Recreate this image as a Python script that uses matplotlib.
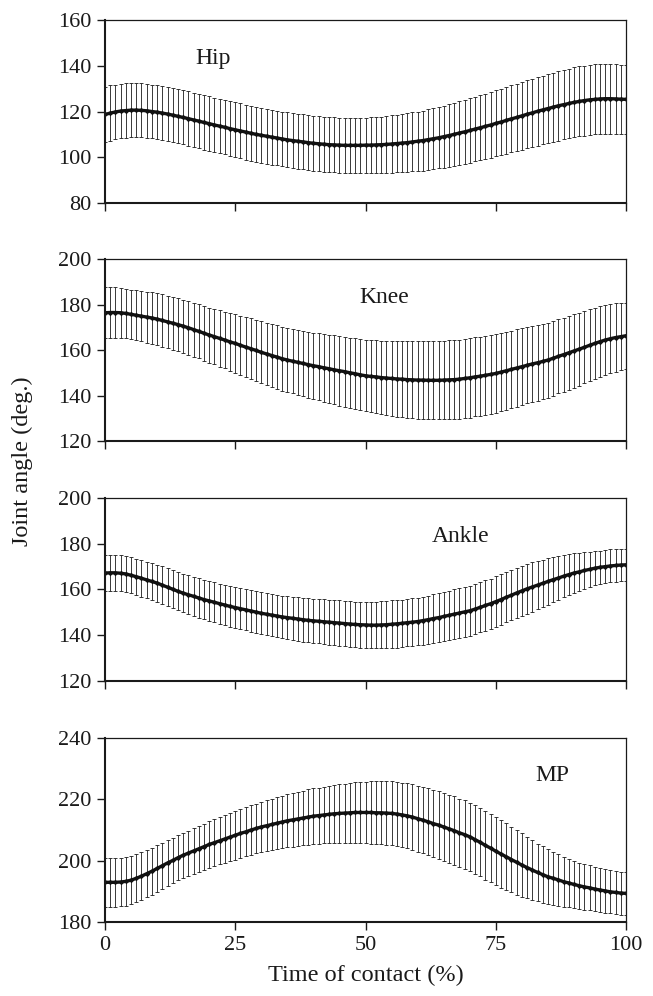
import numpy as np
import matplotlib
matplotlib.use("Agg")
import matplotlib.pyplot as plt

plt.rcParams['font.family'] = ['Liberation Serif', 'DejaVu Serif']

# time of contact (%), 0..100 step 1
time_pct = list(range(0, 101))

hip_mean = [
    118.7, 119.3, 119.8, 120.2, 120.4, 120.6, 120.6, 120.5, 120.3, 120.0,
    119.7, 119.3, 118.9, 118.4, 117.9, 117.4, 116.9, 116.3, 115.8, 115.2,
    114.7, 114.1, 113.6, 113.1, 112.5, 112.0, 111.5, 111.0, 110.5, 110.0,
    109.6, 109.2, 108.8, 108.4, 108.0, 107.6, 107.3, 107.0, 106.7, 106.4,
    106.1, 105.9, 105.7, 105.5, 105.4, 105.3, 105.2, 105.2, 105.2, 105.2,
    105.3, 105.3, 105.4, 105.5, 105.6, 105.8, 106.0, 106.2, 106.4, 106.7,
    107.0, 107.3, 107.7, 108.1, 108.5, 109.0, 109.5, 110.0, 110.6, 111.1,
    111.7, 112.3, 112.9, 113.5, 114.1, 114.8, 115.4, 116.1, 116.8, 117.4,
    118.1, 118.8, 119.4, 120.1, 120.7, 121.3, 121.9, 122.5, 123.0, 123.5,
    124.0, 124.4, 124.8, 125.1, 125.3, 125.5, 125.6, 125.6, 125.5, 125.4,
    125.3]
hip_sd = [
    12.2, 12.1, 12.0, 11.9, 11.9, 11.8, 11.8, 11.8, 11.8, 11.8,
    11.8, 11.8, 11.8, 11.8, 11.8, 11.8, 11.9, 11.9, 11.9, 11.9,
    11.9, 11.9, 11.9, 11.9, 12.0, 12.0, 12.0, 12.0, 12.0, 12.0,
    12.0, 12.0, 12.0, 12.0, 12.0, 12.0, 12.0, 12.0, 12.0, 12.0,
    12.0, 12.0, 12.0, 12.0, 12.0, 12.0, 12.0, 12.0, 12.0, 12.0,
    12.0, 12.1, 12.2, 12.3, 12.4, 12.5, 12.6, 12.7, 12.8, 12.9,
    13.0, 13.1, 13.2, 13.3, 13.4, 13.5, 13.6, 13.7, 13.8, 13.9,
    14.0, 14.1, 14.2, 14.3, 14.4, 14.4, 14.5, 14.6, 14.7, 14.7,
    14.8, 14.9, 14.9, 15.0, 15.0, 15.1, 15.1, 15.2, 15.2, 15.2,
    15.3, 15.3, 15.3, 15.3, 15.3, 15.3, 15.3, 15.3, 15.2, 15.1,
    15.0]

knee_mean = [
    176.4, 176.5, 176.5, 176.4, 176.1, 175.7, 175.3, 174.9, 174.5, 174.1,
    173.6, 173.0, 172.4, 171.8, 171.2, 170.5, 169.8, 169.0, 168.2, 167.4,
    166.6, 165.9, 165.1, 164.4, 163.6, 162.9, 162.1, 161.3, 160.6, 159.8,
    159.0, 158.3, 157.6, 156.9, 156.2, 155.6, 155.1, 154.6, 154.1, 153.6,
    153.1, 152.7, 152.2, 151.8, 151.3, 150.9, 150.5, 150.0, 149.6, 149.1,
    148.7, 148.4, 148.2, 147.9, 147.7, 147.5, 147.3, 147.2, 147.0, 146.9,
    146.8, 146.8, 146.7, 146.7, 146.7, 146.8, 146.9, 147.0, 147.2, 147.5,
    147.8, 148.2, 148.5, 148.9, 149.3, 149.7, 150.3, 150.9, 151.5, 152.1,
    152.7, 153.3, 153.9, 154.4, 155.0, 155.6, 156.4, 157.2, 158.0, 158.8,
    159.6, 160.4, 161.2, 162.1, 162.9, 163.7, 164.4, 165.0, 165.5, 165.9,
    166.3]
knee_sd = [
    11.2, 11.1, 11.0, 11.0, 10.9, 10.9, 11.0, 11.1, 11.2, 11.3,
    11.4, 11.5, 11.5, 11.6, 11.6, 11.7, 11.8, 11.9, 11.9, 12.0,
    12.1, 12.2, 12.4, 12.5, 12.7, 12.8, 13.0, 13.2, 13.4, 13.5,
    13.7, 13.8, 13.9, 14.0, 14.0, 14.1, 14.2, 14.3, 14.4, 14.5,
    14.6, 14.7, 14.9, 15.0, 15.2, 15.3, 15.4, 15.5, 15.5, 15.6,
    15.6, 15.8, 16.0, 16.2, 16.4, 16.5, 16.6, 16.7, 16.8, 16.9,
    17.0, 17.0, 17.1, 17.1, 17.2, 17.2, 17.3, 17.3, 17.4, 17.4,
    17.5, 17.4, 17.4, 17.3, 17.3, 17.2, 17.1, 17.1, 17.0, 17.0,
    16.9, 16.8, 16.7, 16.7, 16.6, 16.5, 16.4, 16.3, 16.3, 16.2,
    16.1, 16.0, 15.9, 15.9, 15.8, 15.7, 15.5, 15.3, 15.0, 14.8,
    14.5]

ankle_mean = [
    167.2, 167.3, 167.3, 167.1, 166.8, 166.2, 165.6, 164.9, 164.2, 163.5,
    162.8, 161.9, 161.0, 160.1, 159.2, 158.4, 157.7, 157.0, 156.3, 155.6,
    155.0, 154.4, 153.8, 153.2, 152.6, 152.1, 151.6, 151.1, 150.6, 150.1,
    149.6, 149.2, 148.8, 148.4, 148.0, 147.7, 147.4, 147.1, 146.8, 146.5,
    146.3, 146.1, 145.9, 145.7, 145.5, 145.3, 145.1, 144.9, 144.7, 144.6,
    144.5, 144.4, 144.4, 144.5, 144.6, 144.8, 145.0, 145.2, 145.5, 145.7,
    146.0, 146.4, 146.8, 147.3, 147.7, 148.2, 148.7, 149.2, 149.7, 150.2,
    150.7, 151.4, 152.2, 153.0, 153.8, 154.7, 155.6, 156.6, 157.5, 158.5,
    159.4, 160.3, 161.1, 161.9, 162.7, 163.5, 164.3, 165.0, 165.8, 166.5,
    167.2, 167.7, 168.3, 168.8, 169.3, 169.7, 170.0, 170.3, 170.5, 170.7,
    170.8]
ankle_sd = [
    7.8, 7.8, 7.8, 7.8, 7.9, 7.9, 7.9, 8.0, 8.0, 8.1,
    8.1, 8.2, 8.2, 8.3, 8.3, 8.4, 8.5, 8.6, 8.7, 8.7,
    8.8, 8.8, 8.8, 8.9, 8.9, 8.9, 9.0, 9.0, 9.1, 9.1,
    9.1, 9.2, 9.2, 9.3, 9.3, 9.4, 9.5, 9.5, 9.6, 9.6,
    9.7, 9.7, 9.8, 9.8, 9.9, 9.9, 9.9, 10.0, 10.0, 10.0,
    10.0, 10.1, 10.2, 10.3, 10.3, 10.4, 10.4, 10.4, 10.4, 10.4,
    10.4, 10.5, 10.5, 10.6, 10.6, 10.7, 10.8, 10.8, 10.9, 10.9,
    11.0, 11.0, 11.0, 11.0, 11.0, 11.0, 11.0, 11.0, 11.0, 11.0,
    11.0, 10.9, 10.8, 10.6, 10.4, 10.2, 9.9, 9.6, 9.2, 8.9,
    8.6, 8.3, 8.0, 7.7, 7.5, 7.3, 7.2, 7.2, 7.1, 7.1,
    7.1]

mp_mean = [
    193.0, 193.0, 193.0, 193.1, 193.3, 193.7, 194.3, 195.0, 195.8, 196.6,
    197.5, 198.4, 199.3, 200.1, 201.0, 201.8, 202.5, 203.2, 203.9, 204.6,
    205.3, 205.9, 206.5, 207.1, 207.7, 208.3, 208.9, 209.4, 210.0, 210.5,
    211.0, 211.4, 211.8, 212.2, 212.6, 213.0, 213.3, 213.6, 213.9, 214.2,
    214.5, 214.7, 214.9, 215.1, 215.3, 215.4, 215.5, 215.6, 215.7, 215.7,
    215.7, 215.7, 215.6, 215.6, 215.5, 215.4, 215.2, 214.9, 214.6, 214.2,
    213.7, 213.2, 212.7, 212.1, 211.6, 211.0, 210.4, 209.8, 209.1, 208.5,
    207.8, 206.9, 206.0, 205.0, 204.1, 203.1, 202.2, 201.3, 200.4, 199.5,
    198.6, 197.8, 197.0, 196.2, 195.5, 194.8, 194.3, 193.8, 193.2, 192.8,
    192.3, 191.9, 191.5, 191.2, 190.8, 190.5, 190.2, 189.9, 189.7, 189.5,
    189.4]
mp_sd = [
    7.9, 7.9, 7.9, 7.9, 7.9, 7.9, 7.8, 7.7, 7.6, 7.6,
    7.5, 7.5, 7.4, 7.4, 7.3, 7.3, 7.3, 7.4, 7.4, 7.5,
    7.6, 7.6, 7.7, 7.8, 7.8, 7.9, 7.9, 8.0, 8.0, 8.1,
    8.1, 8.2, 8.3, 8.4, 8.5, 8.6, 8.7, 8.8, 8.9, 9.0,
    9.0, 9.1, 9.2, 9.3, 9.4, 9.5, 9.6, 9.7, 9.8, 9.9,
    10.0, 10.1, 10.2, 10.2, 10.3, 10.4, 10.5, 10.5, 10.6, 10.6,
    10.7, 10.8, 10.9, 10.9, 11.0, 11.1, 11.1, 11.1, 11.1, 11.1,
    11.1, 11.1, 11.1, 11.1, 11.1, 11.1, 11.0, 10.9, 10.7, 10.5,
    10.3, 10.0, 9.7, 9.4, 9.2, 8.9, 8.6, 8.4, 8.1, 7.9,
    7.6, 7.5, 7.4, 7.3, 7.2, 7.1, 7.1, 7.0, 7.0, 7.0,
    7.0]

joint_names = ["Hip", "Knee", "Ankle", "MP"]
y_limits = [(80, 160), (120, 200), (120, 200), (180, 240)]
y_ticks = [[80, 100, 120, 140, 160], [120, 140, 160, 180, 200],
           [120, 140, 160, 180, 200], [180, 200, 220, 240]]
x_ticks = [0, 25, 50, 75, 100]
label_pos = [(0.207, 0.79), (0.535, 0.79), (0.683, 0.787), (0.858, 0.798)]

means = [hip_mean, knee_mean, ankle_mean, mp_mean]
sds = [hip_sd, knee_sd, ankle_sd, mp_sd]

fig = plt.figure(figsize=(6.53, 9.96), dpi=100)
# axes rectangles in figure fraction (left, bottom, width, height)
rects = [(0.1608, 0.7962, 0.798, 0.1837),
         (0.1608, 0.5572, 0.798, 0.1827),
         (0.1608, 0.3163, 0.798, 0.1837),
         (0.1608, 0.0740, 0.798, 0.1853)]

for i in range(4):
    ax = fig.add_axes(rects[i])
    ax.errorbar(time_pct, means[i], yerr=sds[i], fmt='none', ecolor='#1a1a1a',
                elinewidth=0.6, capsize=1.6, capthick=0.6)
    ax.plot(time_pct, means[i], color='#111111', lw=2.4, marker='D',
            markersize=2.8, markeredgewidth=0)
    ax.set_xlim(0, 100)
    ax.set_ylim(*y_limits[i])
    ax.set_yticks(y_ticks[i])
    ax.set_xticks(x_ticks)
    ax.tick_params(axis='both', direction='out', length=6, width=1.0,
                   labelsize=16, colors='#1a1a1a', pad=4)
    if i < 3:
        ax.set_xticklabels([])
    for side in ['left', 'bottom']:
        ax.spines[side].set_linewidth(1.5)
    for side in ['top', 'right']:
        ax.spines[side].set_linewidth(0.9)
    for sp in ax.spines.values():
        sp.set_color('#1a1a1a')
    ax.text(label_pos[i][0], label_pos[i][1], joint_names[i], transform=ax.transAxes,
            ha='center', va='center', fontsize=17, color='#1a1a1a')

fig.text(0.034, 0.537, "Joint angle (deg.)", rotation=90, ha='center', va='center',
         fontsize=17.5, color='#1a1a1a')
fig.text(0.56, 0.021, "Time of contact (%)", ha='center', va='center',
         fontsize=17.5, color='#1a1a1a')

plt.savefig("out.png", dpi=100)
